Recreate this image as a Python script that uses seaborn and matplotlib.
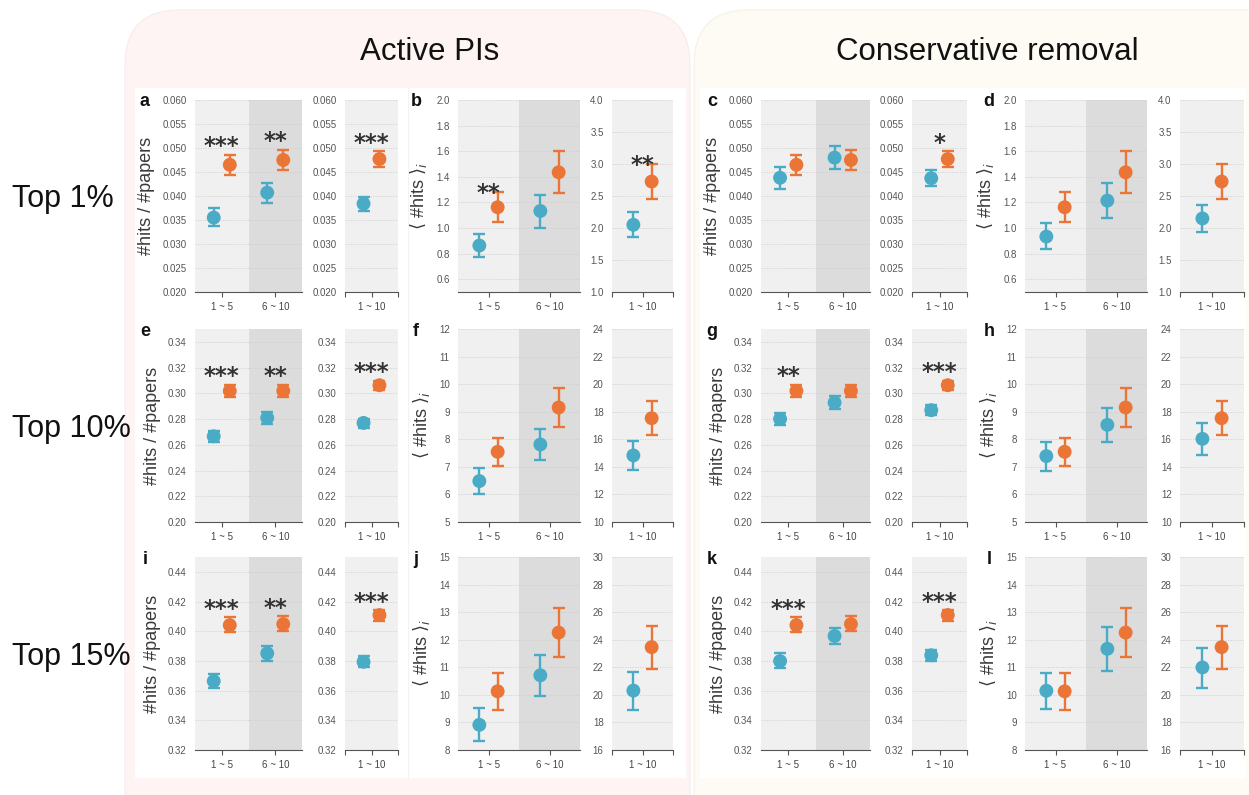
import matplotlib.pyplot as plt
from matplotlib.patches import FancyBboxPatch, Rectangle
import numpy as np
import pandas as pd
import seaborn as sns

sns.set_theme(style="white")
plt.rcParams['font.family'] = ['Liberation Sans', 'DejaVu Sans']

W, H = 1249, 795
BLUE = '#4aabc7'
ORANGE = '#ea7537'

# ---- data (mean, lower, upper) for [1 ~ 5, 6 ~ 10, 1 ~ 10] ----
groups = ['1 ~ 5', '6 ~ 10']
overall = '1 ~ 10'
row_names = ['Top 1%', 'Top 10%', 'Top 15%']
titles = ['Active PIs', 'Conservative removal']

# Top 1%
ratio1_base = [[0.0465, 0.0475, 0.0477], [0.0444, 0.0454, 0.0461], [0.0486, 0.0496, 0.0493]]
ratio1_active = [[0.0355, 0.0407, 0.0384], [0.0337, 0.0386, 0.0369], [0.0375, 0.0428, 0.0398]]
ratio1_cons = [[0.0438, 0.0480, 0.0437], [0.0414, 0.0456, 0.0420], [0.0461, 0.0504, 0.0454]]
hits1_base = [[1.162, 1.435, 2.726], [1.045, 1.271, 2.45], [1.279, 1.602, 3.0]]
hits1_active = [[0.863, 1.133, 2.05], [0.772, 1.003, 1.852], [0.951, 1.256, 2.253]]
hits1_cons = [[0.933, 1.214, 2.149], [0.834, 1.076, 1.93], [1.037, 1.349, 2.36]]

# Top 10%
ratio10_base = [[0.3019, 0.3019, 0.3063], [0.2970, 0.2975, 0.3027], [0.3066, 0.3068, 0.3094]]
ratio10_active = [[0.2666, 0.2809, 0.2770], [0.2622, 0.2762, 0.2731], [0.2710, 0.2856, 0.2804]]
ratio10_cons = [[0.2801, 0.2928, 0.2869], [0.2752, 0.2881, 0.2830], [0.2848, 0.2980, 0.2907]]
hits10_base = [[7.546, 9.152, 17.53], [7.028, 8.44, 16.32], [8.053, 9.852, 18.76]]
hits10_active = [[6.484, 7.812, 14.83], [6.0, 7.245, 13.79], [6.955, 8.379, 15.87]]
hits10_cons = [[7.39, 8.524, 16.03], [6.859, 7.896, 14.88], [7.896, 9.127, 17.17]]

# Top 15%
ratio15_base = [[0.4041, 0.4048, 0.4109], [0.3992, 0.4001, 0.4070], [0.4093, 0.4100, 0.4140]]
ratio15_active = [[0.3664, 0.3851, 0.3794], [0.3615, 0.3799, 0.3757], [0.3715, 0.3900, 0.3830]]
ratio15_cons = [[0.3799, 0.3968, 0.3838], [0.3750, 0.3914, 0.3800], [0.3851, 0.4021, 0.3874]]
hits15_base = [[10.129, 12.258, 23.46], [9.467, 11.38, 21.87], [10.78, 13.14, 25.03]]
hits15_active = [[8.914, 10.71, 20.31], [8.325, 9.96, 18.93], [9.515, 11.456, 21.68]]
hits15_cons = [[10.15, 11.67, 21.99], [9.475, 10.87, 20.47], [10.81, 12.46, 23.43]]

values = {
    (0, 'ratio', 'base'): ratio1_base, (0, 'ratio', 'active'): ratio1_active, (0, 'ratio', 'cons'): ratio1_cons,
    (0, 'hits', 'base'): hits1_base, (0, 'hits', 'active'): hits1_active, (0, 'hits', 'cons'): hits1_cons,
    (1, 'ratio', 'base'): ratio10_base, (1, 'ratio', 'active'): ratio10_active, (1, 'ratio', 'cons'): ratio10_cons,
    (1, 'hits', 'base'): hits10_base, (1, 'hits', 'active'): hits10_active, (1, 'hits', 'cons'): hits10_cons,
    (2, 'ratio', 'base'): ratio15_base, (2, 'ratio', 'active'): ratio15_active, (2, 'ratio', 'cons'): ratio15_cons,
    (2, 'hits', 'base'): hits15_base, (2, 'hits', 'active'): hits15_active, (2, 'hits', 'cons'): hits15_cons,
}

# significance stars for [1 ~ 5, 6 ~ 10, 1 ~ 10]
panels = [
    ('a', 0, 0, 'ratio', 'active', ['***', '**', '***']),
    ('b', 0, 1, 'hits', 'active', ['**', '', '**']),
    ('c', 0, 2, 'ratio', 'cons', ['', '', '*']),
    ('d', 0, 3, 'hits', 'cons', ['', '', '']),
    ('e', 1, 0, 'ratio', 'active', ['***', '**', '***']),
    ('f', 1, 1, 'hits', 'active', ['', '', '']),
    ('g', 1, 2, 'ratio', 'cons', ['**', '', '***']),
    ('h', 1, 3, 'hits', 'cons', ['', '', '']),
    ('i', 2, 0, 'ratio', 'active', ['***', '**', '***']),
    ('j', 2, 1, 'hits', 'active', ['', '', '']),
    ('k', 2, 2, 'ratio', 'cons', ['***', '', '***']),
    ('l', 2, 3, 'hits', 'cons', ['', '', '']),
]

# y axis setup: (left ylim, left ticks, right ylim, right ticks, format)
yaxes = {
    (0, 'ratio'): ((0.020, 0.060), np.arange(0.020, 0.0601, 0.005), (0.020, 0.060), np.arange(0.020, 0.0601, 0.005), '{:.3f}'),
    (0, 'hits'): ((0.5, 2.0), np.arange(0.6, 2.01, 0.2), (1.0, 4.0), np.arange(1.0, 4.01, 0.5), '{:.1f}'),
    (1, 'ratio'): ((0.20, 0.35), np.arange(0.20, 0.341, 0.02), (0.20, 0.35), np.arange(0.20, 0.341, 0.02), '{:.2f}'),
    (1, 'hits'): ((5, 12), np.arange(5, 12.1, 1), (10, 24), np.arange(10, 24.1, 2), '{:.0f}'),
    (2, 'ratio'): ((0.32, 0.45), np.arange(0.32, 0.441, 0.02), (0.32, 0.45), np.arange(0.32, 0.441, 0.02), '{:.2f}'),
    (2, 'hits'): ((8, 15), np.arange(8, 15.1, 1), (16, 30), np.arange(16, 30.1, 2), '{:.0f}'),
}
ylabels = {'ratio': '#hits / #papers', 'hits': r'$\langle$ #hits $\rangle_i$'}

# layout in pixels
col_x = [((195, 302), (345, 398)), ((458, 580), (612, 673)),
         ((761, 870), (912, 967)), ((1025, 1147), (1180, 1244))]
row_y = [(100, 292), (329, 522), (557, 750)]
letter_x = [145, 416, 712, 989]
star_dy = {'ratio': 6.0, 'hits': -1.0}

fig = plt.figure(figsize=(W / 100, H / 100), dpi=100)
fig.patch.set_facecolor('white')

# background boxes
bg = fig.add_axes([0, 0, 1, 1], zorder=-10)
bg.set_xlim(0, W)
bg.set_ylim(H, 0)
bg.axis('off')
bg.add_patch(FancyBboxPatch((125, 10), 565, 860, boxstyle='round,pad=0,rounding_size=55',
                            fc='#fdf4f3', ec='#f6ecea', lw=0.8))
bg.add_patch(FancyBboxPatch((694, 10), 620, 860, boxstyle='round,pad=0,rounding_size=55',
                            fc='#fdfbf4', ec='#f4f1e8', lw=0.8))
bg.add_patch(Rectangle((135, 88), 551, 690, fc='white', ec='none'))
bg.add_patch(Rectangle((700, 88), 546, 690, fc='white', ec='none'))
bg.plot([408, 408], [88, 778], color='#f3f3f3', lw=0.8)

fig.text(430 / W, 1 - 52 / H, titles[0], ha='center', va='center', fontsize=22.5, color='#111')
fig.text(987 / W, 1 - 52 / H, titles[1], ha='center', va='center', fontsize=22.5, color='#111')
for r, name in enumerate(row_names):
    yc = (row_y[r][0] + row_y[r][1]) / 2 + 3
    fig.text(12 / W, 1 - yc / H, name, ha='left', va='center', fontsize=22, color='#111')


def px_axes(xr, yr):
    return fig.add_axes([xr[0] / W, 1 - yr[1] / H, (xr[1] - xr[0]) / W, (yr[1] - yr[0]) / H])


def style_axes(ax, ylim, ticks, fmt):
    ax.set_facecolor('#f0f0f0')
    ax.set_ylim(*ylim)
    ax.set_yticks(ticks)
    ax.set_yticklabels([fmt.format(t) for t in ticks])
    ax.set_axisbelow(True)
    ax.yaxis.grid(True, linestyle=(0, (1.5, 1.5)), color='#d0d0d0', lw=0.6)
    ax.xaxis.grid(False)
    for s in ['top', 'right', 'left']:
        ax.spines[s].set_visible(False)
    ax.spines['bottom'].set_color('#555555')
    ax.spines['bottom'].set_linewidth(0.8)
    ax.tick_params(axis='y', left=False, length=0, labelsize=7, labelcolor='#555555', pad=6)
    ax.tick_params(axis='x', bottom=True, length=3.5, width=0.8, color='#555555',
                   labelsize=7, labelcolor='#444444', pad=4, direction='out')
    ax.set_xlabel('')
    ax.set_ylabel('')


def draw_points(ax, centers, idx, rem, base):
    recs = []
    for c, k in zip(centers, idx):
        recs.append({'pos': c - 0.15, 'mean': rem[0][k], 'lo': rem[1][k], 'hi': rem[2][k], 'series': 'removed'})
        recs.append({'pos': c + 0.15, 'mean': base[0][k], 'lo': base[1][k], 'hi': base[2][k], 'series': 'all'})
    df = pd.DataFrame(recs)
    pal = {'removed': BLUE, 'all': ORANGE}
    for name, sub in df.groupby('series'):
        ax.errorbar(sub['pos'], sub['mean'], yerr=[sub['mean'] - sub['lo'], sub['hi'] - sub['mean']],
                    fmt='none', ecolor=pal[name], elinewidth=1.7, capsize=4.5, capthick=1.7, zorder=3)
    sns.scatterplot(data=df, x='pos', y='mean', hue='series', palette=pal, s=100, linewidth=0,
                    legend=False, ax=ax, zorder=4)
    return df


def add_star(ax, x, y, label, dy):
    ax.annotate(label, xy=(x, y), xytext=(0, dy), textcoords='offset points',
                ha='center', va='center', fontsize=16.5, fontweight='bold', color='#333333',
                family='DejaVu Sans', zorder=5)


for letter, r, c, metric, rem_key, stars in panels:
    base = values[(r, metric, 'base')]
    rem = values[(r, metric, rem_key)]
    lylim, lticks, rylim, rticks, fmt = yaxes[(r, metric)]

    axl = px_axes(col_x[c][0], row_y[r])
    axl.axvspan(0.5, 1.5, color='#dcdcdc', zorder=0, lw=0)
    draw_points(axl, [0, 1], [0, 1], rem, base)
    style_axes(axl, lylim, lticks, fmt)
    axl.set_xlim(-0.5, 1.5)
    axl.set_xticks([0, 1])
    axl.set_xticklabels(groups)
    axl.set_ylabel(ylabels[metric], fontsize=13, color='#3a3a3a', labelpad=5)
    for k in [0, 1]:
        if stars[k]:
            add_star(axl, k, base[2][k], stars[k], star_dy[metric])

    axr = px_axes(col_x[c][1], row_y[r])
    draw_points(axr, [0], [2], rem, base)
    style_axes(axr, rylim, rticks, fmt)
    axr.set_xlim(-0.5, 0.5)
    axr.set_xticks([-0.5, 0, 0.5])
    axr.set_xticklabels(['', overall, ''])
    if stars[2]:
        add_star(axr, 0, base[2][2], stars[2], star_dy[metric])

    fig.text(letter_x[c] / W, 1 - (row_y[r][0] + 2) / H, letter, ha='center', va='center',
             fontsize=13, fontweight='bold', color='#111')

fig.savefig('out.png', dpi=100)
